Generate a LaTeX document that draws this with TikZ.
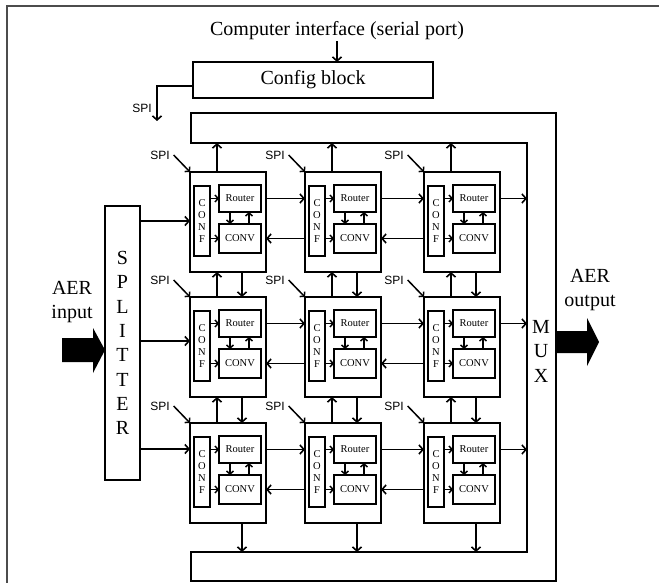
\documentclass[tikz,border=0pt]{standalone}
\usepackage{fontspec}
\setmainfont{Liberation Serif}
\newfontfamily\spifont{Liberation Sans}
\usetikzlibrary{arrows.meta,calc}
\begin{document}
\begin{tikzpicture}[x=1pt,y=-1pt,
  line width=1.9pt, line join=miter,
  arr/.style={-{Straight Barb[length=4pt,width=9pt,line width=1.6pt]}},
  arrs/.style={-{Straight Barb[length=3pt,width=7pt,line width=1.5pt]}},
  box/.style={draw, rectangle, inner sep=0pt, outer sep=0pt, anchor=north west},
  big/.style={font=\fontsize{20}{24}\selectfont},
  small/.style={font=\fontsize{10.5}{12}\selectfont},
  spi/.style={font=\spifont\fontsize{12}{13}\selectfont, inner sep=0pt},
]
\useasboundingbox (0,0) rectangle (659,583);
% frame
\draw[line width=1.3pt, black!70] (659,6) -- (7,6) -- (7,583);

% title and config block
\node[big, inner sep=0pt] (title) at (337,31) {Computer interface (serial port)};
\node[box, big, minimum width=240pt, minimum height=36pt] (cfg) at (193,62) {Config block};
\draw[arr] (title.south) -- (title.south |- cfg.north);
\coordinate (cspi) at (157,121);
\draw[arr] ([yshift=-6pt]cfg.west) -| (cspi);
\node[spi] (cfgspi) at (142,108) {SPI};

% MUX band
\draw (191,113) -- (556,113) -- (556,581) -- (191,581) -- (191,552) -- (527,552) -- (527,143) -- (191,143) -- cycle;
\coordinate (busin) at (191,143);
\coordinate (busbot) at (191,552);
\coordinate (muxin) at (527,300);
\node[font=\fontsize{20}{24.5}\selectfont, align=center, inner sep=0pt] (mux) at (541,351) {M\\U\\X};

% splitter
\node[box, minimum width=35pt, minimum height=274pt, align=center,
      font=\fontsize{20}{24.3}\selectfont] (spl) at (105,206) {S\\P\\L\\I\\T\\T\\E\\R};

% AER input / output
\fill (62,338) -- (93,338) -- (93,328) -- (105,350) -- (93,373) -- (93,362) -- (62,362) -- cycle;
\node[big, align=center, inner sep=0pt] (aerin) at (72,302) {AER\\input};
\fill (556,331) -- (587,331) -- (587,318) -- (599,342) -- (587,366) -- (587,353) -- (556,353) -- cycle;
\node[big, align=center, inner sep=0pt] (aerout) at (590,290) {AER\\output};

% cells
\foreach \r/\y in {1/172,2/297,3/423}{
  \foreach \c/\x in {1/190,2/305,3/424}{
    \node[box, minimum width=76pt, minimum height=100pt] (c\r\c) at (\x,\y) {};
    \node[box, small, align=center, minimum width=16pt, minimum height=70pt] (f\r\c) at (\x+4,\y+14) {C\\O\\N\\F};
    \node[box, small, minimum width=42pt, minimum height=27pt] (r\r\c) at (\x+29,\y+13) {Router};
    \node[box, small, minimum width=42pt, minimum height=29pt] (v\r\c) at (\x+29,\y+52) {CONV};
    \draw[arrs] (f\r\c.east |- r\r\c) -- (r\r\c.west);
    \draw[arrs] (f\r\c.east |- v\r\c) -- (v\r\c.west);
    \draw[arrs] ([xshift=11pt]r\r\c.south west) -- ([xshift=11pt]v\r\c.north west);
    \draw[arrs] ([xshift=30pt]v\r\c.north west) -- ([xshift=30pt]r\r\c.south west);
    \node[spi] (s\r\c) at (\x-30,\y-17) {SPI};
    \draw[arrs, line width=1.5pt] ([xshift=3pt]s\r\c.east) -- (c\r\c.north west);
  }
}

% splitter outputs
\coordinate (in1) at (140,221);
\coordinate (in2) at (140,341);
\coordinate (in3) at (140,449);
\draw[arr] (spl.east |- in1) -- (c11.west |- in1);
\draw[arr] (spl.east |- in2) -- (c21.west |- in2);
\draw[arr] (spl.east |- in3) -- (c31.west |- in3);

% horizontal links
\foreach \r in {1,2,3}{
  \draw[arr] (c\r1.east |- r\r1) -- (c\r2.west |- r\r1);
  \draw[arr] (c\r2.east |- r\r2) -- (c\r3.west |- r\r2);
  \draw[arr] (c\r3.east |- r\r3) -- (muxin |- r\r3);
  \draw[arr] (c\r2.west |- v\r2) -- (c\r1.east |- v\r2);
  \draw[arr] (c\r3.west |- v\r3) -- (c\r2.east |- v\r3);
}

% vertical links
\foreach \c in {1,2,3}{
  \draw[arr] ([xshift=27pt]c1\c.north west) -- ([xshift=27pt]c1\c.north west |- busin);
  \draw[arr] ([xshift=27pt]c2\c.north west) -- ([xshift=27pt]c1\c.south west);
  \draw[arr] ([xshift=52pt]c1\c.south west) -- ([xshift=52pt]c2\c.north west);
  \draw[arr] ([xshift=27pt]c3\c.north west) -- ([xshift=27pt]c2\c.south west);
  \draw[arr] ([xshift=52pt]c2\c.south west) -- ([xshift=52pt]c3\c.north west);
  \draw[arr] ([xshift=52pt]c3\c.south west) -- ([xshift=52pt]c3\c.south west |- busbot);
}
\end{tikzpicture}
\end{document}
